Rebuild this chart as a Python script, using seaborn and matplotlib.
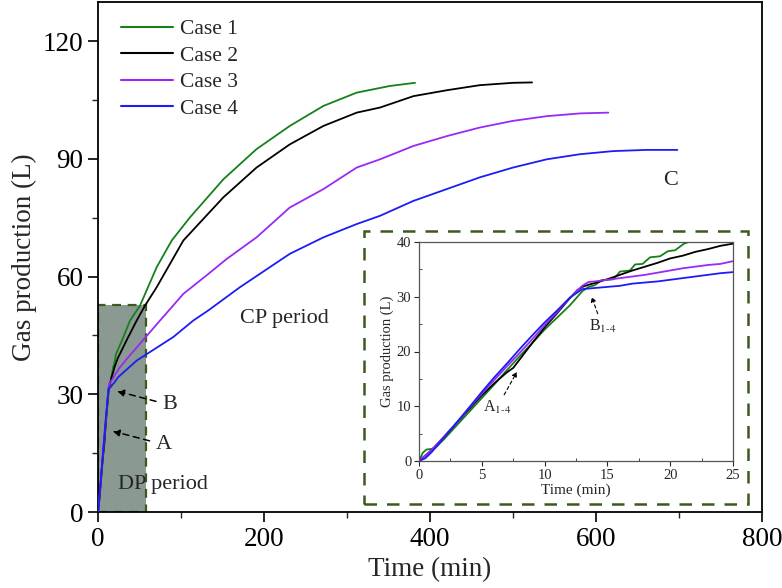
import matplotlib
matplotlib.use("Agg")
import matplotlib.pyplot as plt
import seaborn as sns
import pandas as pd
from matplotlib.patches import Rectangle
from matplotlib.ticker import MultipleLocator

# values
case1_time = [0, 0.3, 0.6, 1.0, 1.3, 2, 3, 4, 5, 6, 7, 8, 9, 10, 11, 12, 13, 13.5, 14, 14.5,
              15.5, 16, 16.8, 17.2, 17.8, 18.4, 19.2, 19.8, 20.4, 21.1, 22, 30, 38.6, 50.6,
              70.7, 88.8, 110.8, 151, 191, 231, 271.5, 311.7, 351.8, 382]
case1_gas = [0, 1.5, 2.1, 2.2, 2.4, 4, 6.5, 9, 11.5, 14, 16.6, 19.1, 21.5, 24, 26.2, 28.4, 31.0, 31.8, 32.1, 33.0,
             33.2, 34.6, 34.8, 35.9, 36.0, 37.2, 37.4, 38.3, 38.5, 39.7, 40.4, 44.3, 48.8, 52.6,
             62.4, 69.2, 75.1, 84.8, 92.5, 98.4, 103.5, 106.9, 108.6, 109.4]

case2_time = [0, 1, 2, 3, 4, 5, 6, 7, 7.5, 8, 9, 10, 11, 12, 12.6, 13, 13.5, 14, 15, 16, 17, 18,
              19, 20, 21, 22, 23, 24, 25, 35, 46.6, 56.6, 70.7, 102.8, 151, 191, 231, 271.5,
              311.7, 339.8, 380, 420, 460, 500, 523]
case2_gas = [0, 2, 4.4, 7, 9.5, 12, 14.2, 16.2, 17.0, 18.5, 21.5, 24.4, 27.0, 29.7, 31.2, 31.8, 32.2, 32.5, 33.2, 34.0, 34.8, 35.5,
             36.2, 37.0, 37.5, 38.2, 38.7, 39.3, 39.7, 44.0, 48.8, 52.6, 57.3, 69.2, 80.2, 87.8, 93.7, 98.4,
             101.8, 103.1, 106.0, 107.5, 108.8, 109.4, 109.5]

case3_time = [0, 1, 2, 3, 4, 5, 6, 7, 8, 9, 10, 11, 12, 13, 13.5, 14, 15, 16, 17, 18, 19, 20,
              21, 22, 23, 24, 25, 34.6, 74.7, 102.8, 133, 155, 191, 231, 271.5, 311.7, 339.8,
              380, 420, 460, 500, 540.6, 580.7, 614.8]
case3_gas = [0, 2, 4.5, 7, 9.7, 12.3, 14.8, 17.3, 19.7, 22.2, 24.8, 27.2, 29.8, 32.0, 32.7, 32.8, 33.1, 33.4, 33.7, 34.0, 34.4, 34.8,
             35.2, 35.5, 35.8, 36.0, 36.5, 39.0, 48.8, 55.6, 60.7, 64.5, 70.0, 77.6, 82.3, 87.8, 89.9,
             93.3, 95.8, 98.0, 99.7, 100.9, 101.6, 101.8]

case4_time = [0, 0.5, 1, 2, 3, 4, 5, 6, 7, 8, 9, 10, 11, 12, 13, 14, 15, 16, 17, 18, 19, 20,
              21, 22, 23, 24, 25, 46.6, 90.7, 114.8, 133, 171, 231, 271.5, 311.7, 339.8, 380,
              420, 460, 500, 540.6, 580.7, 621, 661, 698]
case4_gas = [0, 0.5, 1.6, 4.3, 7, 9.8, 12.6, 15.3, 17.8, 20.4, 22.9, 25.3, 27.5, 29.8, 31.4, 31.6, 31.8, 32.0, 32.4, 32.6, 32.8, 33.1,
             33.4, 33.7, 34.0, 34.3, 34.5, 38.6, 44.6, 48.8, 51.4, 57.3, 65.8, 70.0, 73.4, 75.5, 79.3,
             82.3, 85.3, 87.8, 89.9, 91.2, 92.0, 92.3, 92.3]

case_names = ["Case 1", "Case 2", "Case 3", "Case 4"]
case_colors = ["#16801a", "#000000", "#9b28f5", "#1c1cf5"]

frames = []
for name, t, g in zip(case_names,
                      [case1_time, case2_time, case3_time, case4_time],
                      [case1_gas, case2_gas, case3_gas, case4_gas]):
    frames.append(pd.DataFrame({"time": t, "gas": g, "case": name}))
df = pd.concat(frames, ignore_index=True)
palette = dict(zip(case_names, case_colors))

sns.set_theme(style="ticks")
plt.rcParams["font.family"] = ["Liberation Serif", "DejaVu Serif"]
plt.rcParams["mathtext.fontset"] = "stix"

edge_green = "#3d5a1e"

fig = plt.figure(figsize=(7.82, 5.88), dpi=100)
ax = fig.add_axes([98 / 782, 76 / 588, 664 / 782, 510 / 588])

# DP period shading
ax.add_patch(Rectangle((0, 0), 58, 52.8, facecolor="#8a9991", edgecolor=edge_green,
                       linestyle=(0, (4, 3)), linewidth=1.6, zorder=1))

sns.lineplot(data=df, x="time", y="gas", hue="case", palette=palette, ax=ax,
             linewidth=1.3, sort=False, estimator=None, zorder=3)

# dashed frame around the inset
ax.add_patch(Rectangle((320.5, 2.0), 462.5, 69.7, facecolor="none", edgecolor=edge_green,
                       linestyle=(0, (5, 4)), linewidth=1.8, zorder=2, clip_on=False))

ax.set_xlim(0, 800)
ax.set_ylim(0, 130)
ax.xaxis.set_major_locator(MultipleLocator(200))
ax.xaxis.set_minor_locator(MultipleLocator(100))
ax.yaxis.set_major_locator(MultipleLocator(30))
ax.yaxis.set_minor_locator(MultipleLocator(15))
ax.tick_params(which="major", direction="out", length=7, width=1.2, labelsize=19.5, colors="black")
ax.tick_params(which="minor", direction="out", length=4, width=1.0)
for s in ax.spines.values():
    s.set_linewidth(1.3)
    s.set_color("black")
ax.set_xlabel("Time (min)", fontsize=19.5)
ax.set_ylabel("Gas production (L)", fontsize=19.5)

leg = ax.legend(loc="upper left", bbox_to_anchor=(0.009, 1.0), frameon=False, fontsize=15.5,
                handlelength=2.4, handletextpad=0.35, labelspacing=0.3, borderaxespad=0.4)
for line in leg.get_lines():
    line.set_linewidth(1.5)

arrow_kw = dict(arrowstyle="-|>", linestyle=(0, (4, 3)), color="black", lw=1.1,
                mutation_scale=10, shrinkA=2, shrinkB=0)
ax.annotate("B", xy=(23, 30.8), xytext=(86, 27.3), fontsize=16, ha="center", va="center",
            arrowprops=arrow_kw)
ax.annotate("A", xy=(17.7, 20.6), xytext=(79, 17.2), fontsize=16, ha="center", va="center",
            arrowprops=arrow_kw)
ax.text(24, 7.1, "DP period", fontsize=16, ha="left", va="center", zorder=4)
ax.text(171, 49.3, "CP period", fontsize=16, ha="left", va="center")
ax.text(690, 84.4, "C", fontsize=16, ha="center", va="center")

# inset: first 25 minutes
ins = fig.add_axes([419 / 782, 127 / 588, 314 / 782, 219 / 588])
sns.lineplot(data=df, x="time", y="gas", hue="case", palette=palette, ax=ins,
             linewidth=1.3, sort=False, estimator=None, legend=False)
ins.set_xlim(0, 25)
ins.set_ylim(0, 40)
ins.xaxis.set_major_locator(MultipleLocator(5))
ins.xaxis.set_minor_locator(MultipleLocator(2.5))
ins.yaxis.set_major_locator(MultipleLocator(10))
ins.yaxis.set_minor_locator(MultipleLocator(5))
ins.tick_params(which="major", direction="out", length=3.5, width=0.8, labelsize=10.5, pad=2)
ins.tick_params(which="minor", direction="in", length=2.5, width=0.6)
for s in ins.spines.values():
    s.set_linewidth(0.9)
    s.set_color("#555555")
ins.set_xlabel("Time (min)", fontsize=11, labelpad=1)
ins.set_ylabel("Gas production (L)", fontsize=10.5, labelpad=2)

small_arrow = dict(arrowstyle="-|>", linestyle=(0, (3, 2.5)), color="black", lw=0.8,
                   mutation_scale=7, shrinkA=1, shrinkB=0)
ins.annotate(r"B$_{1\text{-}4}$", xy=(13.75, 30.0), xytext=(14.6, 24.5), fontsize=11.5,
             ha="center", va="center", arrowprops=small_arrow)
ins.annotate(r"A$_{1\text{-}4}$", xy=(7.8, 16.3), xytext=(6.2, 9.7), fontsize=11.5,
             ha="center", va="center", arrowprops=small_arrow)

fig.savefig("out.png", dpi=100)
